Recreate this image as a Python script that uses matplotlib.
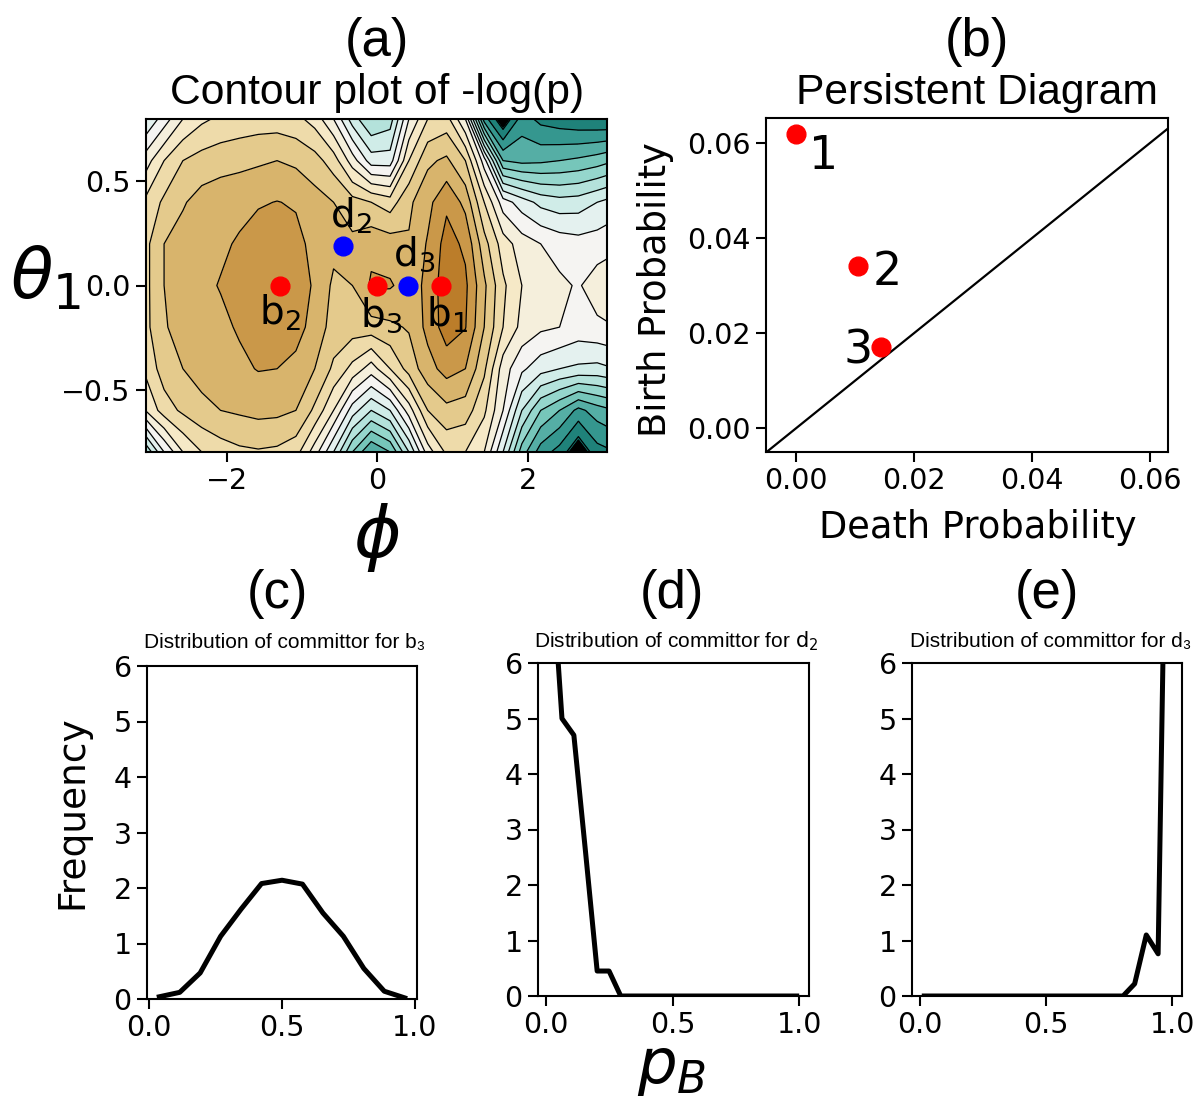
#Importing libraries
import numpy as np
import matplotlib.pyplot as plt
from matplotlib.colors import Normalize

W, H = 1196, 1099

#Grid of -log(p) values, one row per theta value (top to bottom)
phi_grid = [-3.08, -2.83, -2.58, -2.33, -2.08, -1.83, -1.58, -1.33, -1.08, -0.83, -0.58, -0.33, -0.08,
            0.17, 0.42, 0.67, 0.92, 1.17, 1.42, 1.67, 1.92, 2.17, 2.42, 2.67, 2.92, 3.17]
theta_grid = [0.8, 0.6, 0.4, 0.2, 0.0, -0.2, -0.4, -0.6, -0.8]
neg_log_p = [
    [9.0, 7.5, 6.0, 5.2, 4.8, 4.6, 4.5, 4.5, 4.7, 5.4, 7.0, 9.5, 11.0, 10.5, 7.0, 5.0, 4.6, 7.0, 14.5, 17.0, 14.5, 15.3, 15.6, 15.8, 15.9, 16.0],
    [6.5, 5.0, 4.0, 3.6, 3.4, 3.3, 3.15, 3.0, 3.2, 3.6, 4.5, 6.5, 8.5, 8.5, 5.0, 3.2, 2.8, 4.0, 7.5, 13.0, 13.3, 13.2, 13.0, 12.8, 12.5, 12.0],
    [4.8, 3.8, 3.1, 2.6, 2.4, 2.25, 2.1, 1.97, 2.1, 2.6, 3.0, 3.6, 4.0, 4.5, 3.2, 2.3, 1.2, 2.3, 5.0, 7.5, 8.5, 9.3, 9.6, 9.5, 9.0, 8.5],
    [4.3, 3.0, 2.6, 2.35, 2.15, 1.9, 1.5, 1.4, 1.7, 2.3, 2.7, 2.75, 2.3, 2.5, 2.9, 1.9, 0.6, 1.2, 3.6, 5.5, 6.5, 7.0, 7.4, 7.6, 7.5, 7.3],
    [4.3, 3.0, 2.5, 2.2, 1.95, 1.6, 1.4, 1.25, 1.6, 2.1, 3.2, 3.0, 1.85, 1.9, 2.4, 1.8, 0.3, 0.8, 2.8, 4.8, 6.0, 6.5, 6.8, 7.1, 6.5, 6.0],
    [4.3, 3.1, 2.6, 2.3, 2.2, 1.9, 1.5, 1.4, 1.6, 2.4, 3.4, 3.5, 3.4, 3.2, 2.9, 1.7, 0.5, 0.95, 3.0, 5.0, 6.3, 6.8, 7.0, 7.4, 7.2, 7.0],
    [4.8, 3.5, 3.0, 2.6, 2.4, 2.2, 1.95, 2.0, 2.3, 3.0, 4.2, 5.3, 6.5, 5.0, 3.6, 2.4, 1.6, 2.0, 3.8, 6.5, 7.8, 8.6, 9.0, 9.2, 9.3, 9.0],
    [6.0, 4.5, 3.8, 3.3, 3.0, 2.85, 2.7, 2.75, 3.0, 4.2, 6.0, 8.5, 10.0, 9.0, 6.5, 4.0, 3.3, 3.5, 4.8, 7.0, 10.0, 12.0, 13.0, 14.3, 13.5, 13.0],
    [11.0, 8.0, 6.0, 5.0, 4.5, 4.2, 4.1, 4.2, 4.6, 6.5, 9.0, 12.0, 14.0, 13.0, 10.0, 6.5, 4.8, 5.0, 6.0, 9.0, 12.5, 14.5, 15.4, 17.0, 15.4, 15.0],
]

#Critical points on the landscape
birth_phi = [0.84, -1.29, 0.0]
birth_theta = [0.0, 0.0, 0.0]
birth_names = ['$\\mathrm{b_1}$', '$\\mathrm{b_2}$', '$\\mathrm{b_3}$']
death_phi = [-0.45, 0.41]
death_theta = [0.19, 0.0]
death_names = ['$\\mathrm{d_2}$', '$\\mathrm{d_3}$']

#Persistence diagram
death_prob = [0.0, 0.0105, 0.0144]
birth_prob = [0.0618, 0.0341, 0.0171]
pers_labels = ['1', '2', '3']

#Committor distributions
pb_b3 = [0.038, 0.115, 0.192, 0.269, 0.346, 0.423, 0.5, 0.577, 0.654, 0.731, 0.808, 0.885, 0.962]
freq_b3 = [0.04, 0.12, 0.47, 1.13, 1.62, 2.08, 2.14, 2.07, 1.55, 1.13, 0.55, 0.14, 0.02]
pb_d = [0.017, 0.063, 0.110, 0.156, 0.202, 0.249, 0.295, 0.341, 0.388, 0.434, 0.480,
        0.527, 0.573, 0.619, 0.666, 0.712, 0.758, 0.805, 0.851, 0.897, 0.944, 0.990]
freq_d2 = [8.1, 5.0, 4.7, 2.6, 0.45, 0.45, 0.0, 0.0, 0.0, 0.0, 0.0,
           0.0, 0.0, 0.0, 0.0, 0.0, 0.0, 0.0, 0.0, 0.0, 0.0, 0.0]
freq_d3 = [0.0, 0.0, 0.0, 0.0, 0.0, 0.0, 0.0, 0.0, 0.0, 0.0, 0.0,
           0.0, 0.0, 0.0, 0.0, 0.0, 0.0, 0.0, 0.22, 1.1, 0.76, 13.5]

SANS = ['Liberation Sans', 'DejaVu Sans']
TICK = 20.5

def box(l, t, r, b):
    return [l / W, 1 - b / H, (r - l) / W, (b - t) / H]

def ftext(x, y, s, **kw):
    fig.text(x / W, 1 - y / H, s, **kw)

def style(ax):
    for sp in ax.spines.values():
        sp.set_linewidth(1.5)
    ax.tick_params(labelsize=TICK, length=7, width=1.5, pad=4)

fig = plt.figure(figsize=(W / 100, H / 100), dpi=100)

#(a) contour plot
ax = fig.add_axes(box(146, 119, 607, 452))
Z = np.array(neg_log_p)[::-1]
th = theta_grid[::-1]
dense = list(np.linspace(16.22, 17.0, 20))
fill_levels = list(range(0, 17)) + dense + [17.05]
line_levels = list(range(1, 17)) + dense
ax.contourf(phi_grid, th, Z, levels=fill_levels, cmap='BrBG', norm=Normalize(-4.0, 19.2))
ax.contour(phi_grid, th, Z, levels=line_levels, colors='k', linewidths=0.9)
ax.plot(birth_phi, birth_theta, 'o', color='#ff0000', ms=13.5, zorder=5)
ax.plot(death_phi, death_theta, 'o', color='#0000ff', ms=13.5, zorder=5)
ax.text(0.92, -0.2, birth_names[0], fontsize=28, ha='center', va='baseline')
ax.text(-1.29, -0.19, birth_names[1], fontsize=28, ha='center', va='baseline')
ax.text(0.05, -0.2, birth_names[2], fontsize=28, ha='center', va='baseline')
ax.text(-0.35, 0.28, death_names[0], fontsize=28, ha='center', va='baseline')
ax.text(0.49, 0.096, death_names[1], fontsize=28, ha='center', va='baseline')
ax.set_xlim(-3.07, 3.05)
ax.set_ylim(-0.8, 0.8)
ax.set_xticks([-2, 0, 2])
ax.set_yticks([-0.5, 0.0, 0.5])
style(ax)

#(b) persistence diagram
ax = fig.add_axes(box(766, 118, 1168, 452))
ax.plot([-0.01, 0.07], [-0.01, 0.07], color='k', lw=1.6)
ax.plot(death_prob, birth_prob, 'o', color='#ff0000', ms=13.5, zorder=5)
ax.text(death_prob[0] + 0.0022, birth_prob[0] - 0.0074, pers_labels[0], fontsize=33, va='baseline')
ax.text(death_prob[1] + 0.0024, birth_prob[1] - 0.0041, pers_labels[1], fontsize=33, va='baseline')
ax.text(death_prob[2] - 0.0064, birth_prob[2] - 0.0035, pers_labels[2], fontsize=33, va='baseline')
ax.set_xlim(-0.0051, 0.063)
ax.set_ylim(-0.005, 0.0652)
ax.set_xticks([0, 0.02, 0.04, 0.06])
ax.set_yticks([0, 0.02, 0.04, 0.06])
style(ax)

#(c)-(e) committor distributions
for pos, x, y in [((147, 666, 417, 999), pb_b3, freq_b3),
                  ((538, 663, 809, 996), pb_d, freq_d2),
                  ((912, 663, 1182, 996), pb_d, freq_d3)]:
    ax = fig.add_axes(box(*pos))
    ax.plot(x, y, color='k', lw=3.6)
    ax.set_ylim(0, 6)
    ax.set_xticks([0.0, 0.5, 1.0])
    ax.set_yticks(range(7))
    style(ax)

#Panel titles and labels
ftext(377, 56, '(a)', fontsize=38, family=SANS, ha='center', va='baseline')
ftext(377, 104, 'Contour plot of -log(p)', fontsize=30.7, family=SANS, ha='center', va='baseline')
ftext(977, 56, '(b)', fontsize=38, family=SANS, ha='center', va='baseline')
ftext(977, 104, 'Persistent Diagram', fontsize=30.7, family=SANS, ha='center', va='baseline')
ftext(277, 608, '(c)', fontsize=38, family=SANS, ha='center', va='baseline')
ftext(672, 608, '(d)', fontsize=38, family=SANS, ha='center', va='baseline')
ftext(1047, 608, '(e)', fontsize=38, family=SANS, ha='center', va='baseline')
ftext(285, 648, 'Distribution of committor for b\u2083', fontsize=15, family=SANS, ha='center', va='baseline')
ftext(676, 647, 'Distribution of committor for $\\mathrm{d_2}$', fontsize=15, family=SANS, ha='center', va='baseline')
ftext(1051, 647, 'Distribution of committor for d\u2083', fontsize=15, family=SANS, ha='center', va='baseline')

ftext(45, 278, '$\\theta_1$', fontsize=50, ha='center', va='center')
ftext(377, 538, '$\\phi$', fontsize=52, ha='center', va='center')
ftext(656, 290, 'Birth Probability', fontsize=26.5, rotation=90, ha='center', va='center')
ftext(978, 527, 'Death Probability', fontsize=26.5, ha='center', va='center')
ftext(72, 812, 'Frequency', fontsize=27, rotation=90, ha='center', va='center')
ftext(672, 1068, '$p_B$', fontsize=45, ha='center', va='center')

plt.savefig('out.png', dpi=100)
